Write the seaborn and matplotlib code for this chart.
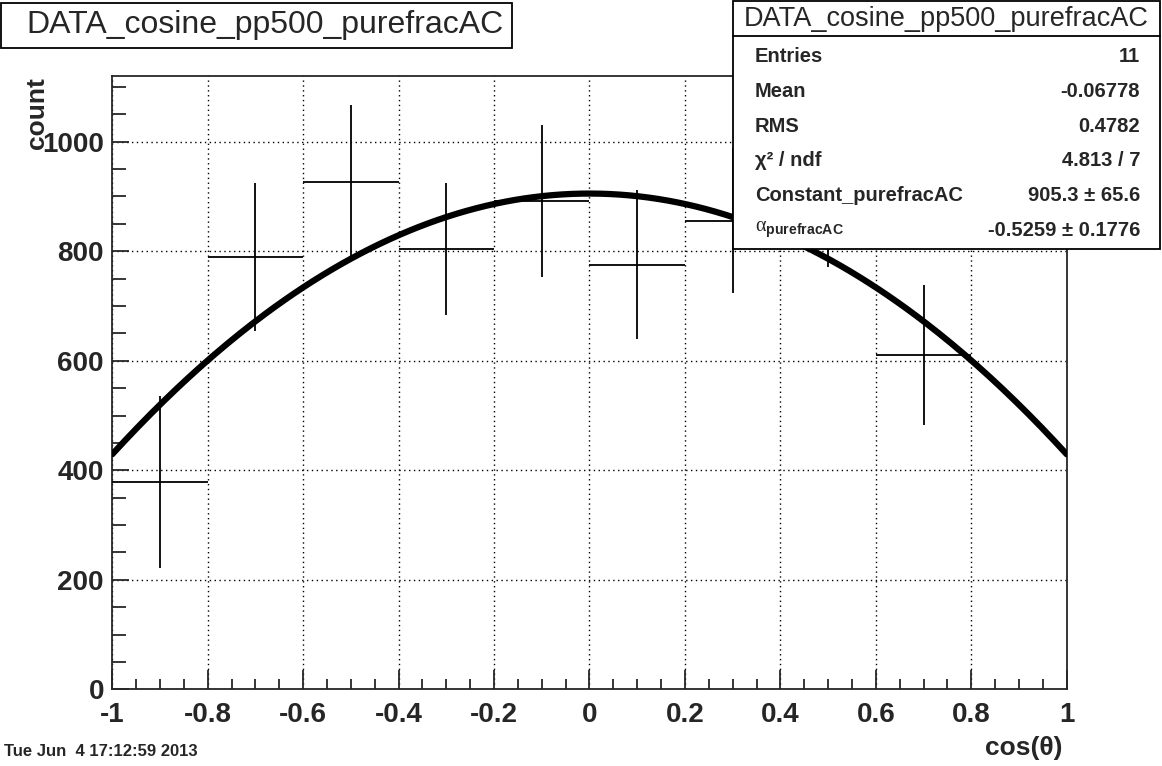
import numpy as np
import pandas as pd
import seaborn as sb
import matplotlib.pyplot as plt
from matplotlib.ticker import MultipleLocator

# histogram content (10 bins of cos(theta))
aBinCenter = [-0.9, -0.7, -0.5, -0.3, -0.1, 0.1, 0.3, 0.5, 0.7, 0.9]
aCount = [378, 790, 927, 804, 892, 775, 856, 908, 610, 0]
aError = [157, 135, 140, 120, 139, 136, 132, 136, 128, 0]

# fit result  f(x) = C * (1 + alpha * x^2)
fConst = 905.3
fAlpha = -0.5259

# stats box lines
aStatLabel = ["Entries", "Mean", "RMS", "χ² / ndf", "Constant_purefracAC",
              r"$\alpha_{\mathrm{purefracAC}}$"]
aStatValue = ["11", "-0.06778", "0.4782", "4.813 / 7", "905.3 ± 65.6",
              "-0.5259 ± 0.1776"]

sTitle = "DATA_cosine_pp500_purefracAC"

sb.set_style("ticks")
plt.rcParams["font.family"] = ["Liberation Sans", "DejaVu Sans"]
plt.rcParams["mathtext.fontset"] = "custom"
plt.rcParams["mathtext.rm"] = "Liberation Sans:bold"
plt.rcParams["mathtext.it"] = "Liberation Serif"
plt.rcParams["mathtext.bf"] = "Liberation Sans:bold"

oFig = plt.figure(figsize=(11.62, 7.66), dpi=100, facecolor='w')
oAx = oFig.add_axes([0.0966, 0.1001, 0.8214, 0.8007])

# data with horizontal bin width bars
oData = pd.DataFrame({"x": aBinCenter, "y": aCount, "err": aError})
oShown = oData[oData["y"] > 0]
oAx.errorbar(oShown["x"], oShown["y"], xerr=0.1, yerr=oShown["err"],
             fmt='none', ecolor='k', elinewidth=1.3, capsize=0, zorder=3)

# fit curve
aX = np.linspace(-1, 1, 300)
oFit = pd.DataFrame({"x": aX, "y": fConst * (1 + fAlpha * aX ** 2)})
sb.lineplot(data=oFit, x="x", y="y", ax=oAx, color='k', linewidth=4.5, zorder=4)

oAx.set_xlim(-1, 1)
oAx.set_ylim(0, 1120)
aXTick = np.round(np.arange(-1, 1.01, 0.2), 1)
oAx.set_xticks(aXTick)
oAx.set_xticklabels(["%g" % v if abs(v) > 1e-9 else "0" for v in aXTick])
oAx.xaxis.set_minor_locator(MultipleLocator(0.05))
oAx.yaxis.set_major_locator(MultipleLocator(200))
oAx.yaxis.set_minor_locator(MultipleLocator(50))
oAx.grid(True, which='major', color='k', linestyle=(0, (1, 2.5)), linewidth=1)
oAx.tick_params(which='both', direction='in', top=False, right=False,
                labelsize=20, width=1.3)
oAx.tick_params(axis='x', which='major', length=14, pad=9)
oAx.tick_params(axis='x', which='minor', length=7)
oAx.tick_params(axis='y', which='major', length=12, pad=6)
oAx.tick_params(axis='y', which='minor', length=10)
for oLab in oAx.get_xticklabels() + oAx.get_yticklabels():
    oLab.set_fontweight('bold')
for oSpine in oAx.spines.values():
    oSpine.set_linewidth(1.3)
oAx.set_xlabel("")
oAx.set_ylabel("")

# axis titles
oFig.text(1063 / 1162, 1 - 748 / 766, "cos(θ)", ha='right', va='center',
          fontsize=19, fontweight='bold')
oFig.text(37 / 1162, 1 - 77 / 766, "count", ha='center', va='top', rotation=90,
          fontsize=19, fontweight='bold')

# date
oFig.text(4 / 1162, 1 - 752 / 766, "Tue Jun  4 17:12:59 2013", ha='left',
          va='center', fontsize=12, fontweight='bold')

# title box
oFig.patches.append(plt.Rectangle((1 / 1162, 1 - 48 / 766), 511 / 1162, 45 / 766,
                                  transform=oFig.transFigure, facecolor='w',
                                  edgecolor='k', linewidth=1.3))
oFig.text(265 / 1162, 1 - 25 / 766, sTitle, ha='center', va='center', fontsize=23)

# stats box
fL, fT, fR, fB = 733, 1, 1160, 249
oFig.add_artist(plt.Rectangle((fL / 1162, 1 - fB / 766), (fR - fL) / 1162,
                              (fB - fT) / 766, transform=oFig.transFigure,
                              facecolor='w', edgecolor='k', linewidth=1.3, zorder=10))
oFig.add_artist(plt.Line2D([fL / 1162, fR / 1162], [1 - 36 / 766, 1 - 36 / 766],
                           transform=oFig.transFigure, color='k', linewidth=1.3,
                           zorder=11))
oFig.text((fL + fR) / 2 / 1162, 1 - 19 / 766, sTitle, ha='center', va='center',
          fontsize=19.5, zorder=12)
for i, (sLab, sVal) in enumerate(zip(aStatLabel, aStatValue)):
    fY = 1 - (57 + i * 34.6) / 766
    oFig.text(755 / 1162, fY, sLab, ha='left', va='center', fontsize=14.5,
              fontweight='bold', zorder=12)
    oFig.text(1140 / 1162, fY, sVal, ha='right', va='center', fontsize=14.5,
              fontweight='bold', zorder=12)

oFig.savefig("out.png", dpi=100)
